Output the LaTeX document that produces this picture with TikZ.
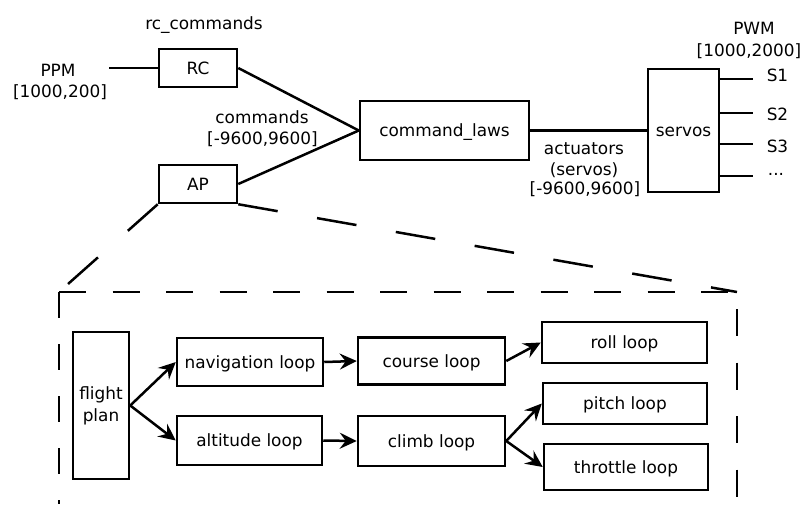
\documentclass[tikz,border=0pt]{standalone}
\usepackage{fontspec}
\setmainfont{DejaVu Sans}
\usetikzlibrary{arrows.meta}
\begin{document}
\begin{tikzpicture}[x=1pt,y=-1pt,
  every node/.style={font=\fontsize{16.9pt}{20pt}\selectfont},
  blk/.style={draw, line width=2.5pt, inner sep=0pt, text height=12.3pt, text depth=0pt},
  tallblk/.style={draw, line width=2.5pt, inner sep=0pt, align=center,
    font=\fontsize{16.9pt}{22pt}\selectfont},
  wire/.style={line width=2.5pt},
  arr/.style={wire, -{Stealth[length=17pt,width=16pt,inset=6pt]}},
  zoomline/.style={line width=2.5pt, dash pattern=on 40pt off 40pt},
  frame/.style={line width=2.5pt},
  lbl/.style={anchor=base, inner sep=0pt}]
\useasboundingbox (0,0) rectangle (806,504);

% upper signal chain
\node[blk, minimum width=78pt, minimum height=38pt] (rc) at (198,68) {RC};
\node[blk, minimum width=78pt, minimum height=38pt] (ap) at (198,184) {AP};
\node[blk, minimum width=169pt, minimum height=59pt] (cl) at (444.5,130.5) {command\_laws};
\node[blk, minimum width=71pt, minimum height=123pt] (sv) at (683.5,130.5) {servos};

\coordinate (ppmin) at (109,68);
\draw[wire] (ppmin) -- (rc.west);
\draw[wire] (rc.east) -- (cl.west);
\draw[wire] (ap.east) -- (cl.west);
\draw[wire] (cl.east) -- (sv.west);

\coordinate (s1) at (753,79);
\coordinate (s2) at (753,113);
\coordinate (s3) at (753,144);
\coordinate (s4) at (753,176);
\foreach \s in {s1,s2,s3,s4} \draw[wire] (sv.east |- \s) -- (\s);

% labels of the upper chain
\node[lbl] (rccmd) at (204,29) {rc\_commands};
\node[lbl] (ppm) at (58,76) {PPM};
\node[lbl] (ppmrange) at (60,97) {[1000,200]};
\node[lbl] (cmds) at (262,123) {commands};
\node[lbl] (cmdrange) at (262.5,144) {[-9600,9600]};
\node[lbl] (pwm) at (754,34) {PWM};
\node[lbl] (pwmrange) at (749,56) {[1000,2000]};
\node[lbl] (ls1) at (777.5,81) {S1};
\node[lbl] (ls2) at (777.5,120) {S2};
\node[lbl] (ls3) at (777.5,152) {S3};
\node[lbl] (ls4) at (776,175) {...};
\node[lbl] (act) at (584,154) {actuators};
\node[lbl] (actsv) at (584,175) {(servos)};
\node[lbl] (actrange) at (585,194) {[-9600,9600]};

% expanded view of the autopilot
\coordinate (ztl) at (59,292);
\coordinate (ztr) at (737,292);
\coordinate (zbl) at (59,504);
\coordinate (zbr) at (737,504);
\draw[zoomline] (ap.south west) -- (ztl);
\draw[zoomline] (ap.south east) -- (ztr);
\draw[frame, dash pattern=on 26pt off 26pt] (ztl) -- (zbl);
\draw[frame, dash pattern=on 27pt off 26.5pt] (ztl) -- (ztr);
\draw[frame, dash pattern=on 27pt off 26.5pt, dash phase=36.5pt] (ztr) -- (zbr);

\node[tallblk, minimum width=56pt, minimum height=147pt] (fp) at (101,405.5) {flight\\plan};
\node[blk, minimum width=146pt, minimum height=48pt] (nav) at (250,362) {navigation loop};
\node[blk, minimum width=145pt, minimum height=49pt] (alt) at (249.5,440.5) {altitude loop};
\node[blk, minimum width=147pt, minimum height=47pt] (course) at (431.5,361) {course loop};
\node[blk, minimum width=147pt, minimum height=50pt] (climb) at (431.5,441) {climb loop};
\node[blk, minimum width=165pt, minimum height=41pt] (roll) at (624.5,342.5) {roll loop};
\node[blk, minimum width=164pt, minimum height=41pt] (pitch) at (625,403.5) {pitch loop};
\node[blk, minimum width=164pt, minimum height=46pt] (thr) at (626,467) {throttle loop};

\draw[arr] (fp.east) -- (nav.west);
\draw[arr] (fp.east) -- (alt.west);
\draw[arr] (nav.east) -- (course.west);
\draw[arr] (alt.east) -- (climb.west);
\draw[arr] (course.east) -- (roll.west);
\draw[arr] (climb.east) -- (pitch.west);
\draw[arr] (climb.east) -- (thr.west);
\end{tikzpicture}
\end{document}
